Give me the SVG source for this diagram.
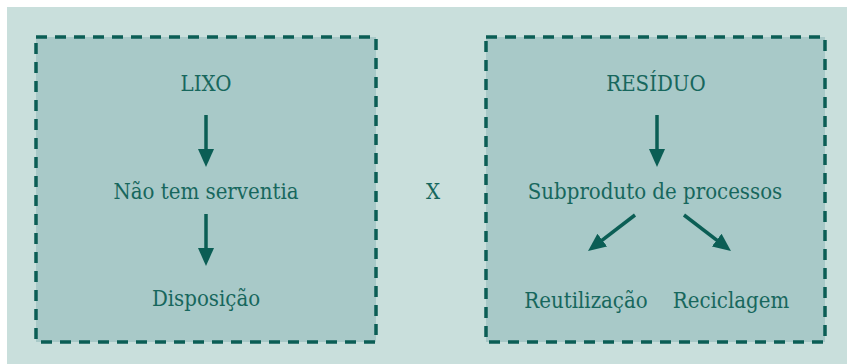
<svg xmlns="http://www.w3.org/2000/svg" width="847" height="364" viewBox="0 0 847 364">
<style>
.box{fill:#a8c9c8;stroke:#0b5e55;stroke-width:3.5;stroke-dasharray:11 8}
.t{font-family:'DejaVu Serif Condensed','DejaVu Serif',serif;font-stretch:condensed;font-size:22px;fill:#17675d;text-anchor:middle}
.c{stroke:#0b5e55;stroke-width:3.5;fill:none;marker-end:url(#ah)}
</style>
<defs>
<marker id="ah" markerUnits="userSpaceOnUse" markerWidth="20" markerHeight="16" refX="12" refY="8" orient="auto">
<path d="M0,0 L18,8 L0,16 Z" fill="#0b5e55"/>
</marker>
</defs>
<rect x="0" y="0" width="847" height="364" fill="#ffffff"/>
<rect x="7" y="7" width="840" height="357" fill="#c9dfdc"/>
<g id="lixo-box"><rect class="box" x="36" y="37" width="340" height="305"/></g>
<g id="residuo-box"><rect class="box" x="486" y="37" width="339" height="305"/></g>
<g id="lixo"><text class="t" x="206" y="91">LIXO</text></g>
<g id="nao-tem-serventia"><text class="t" x="206" y="199">Não tem serventia</text></g>
<g id="disposicao"><text class="t" x="206" y="306">Disposição</text></g>
<g id="x"><text class="t" x="433" y="199">X</text></g>
<g id="residuo"><text class="t" x="656" y="91">RESÍDUO</text></g>
<g id="subproduto"><text class="t" x="655" y="199">Subproduto de processos</text></g>
<g id="reutilizacao"><text class="t" x="586" y="308">Reutilização</text></g>
<g id="reciclagem"><text class="t" x="731" y="308">Reciclagem</text></g>
<g id="connectors">
<line class="c" x1="206" y1="115" x2="206" y2="161"/>
<line class="c" x1="206" y1="214" x2="206" y2="260"/>
<line class="c" x1="657" y1="115" x2="657" y2="161"/>
<line class="c" x1="635" y1="215" x2="592.8" y2="247.4"/>
<line class="c" x1="684" y1="215" x2="726.2" y2="247.4"/>
</g>
</svg>
